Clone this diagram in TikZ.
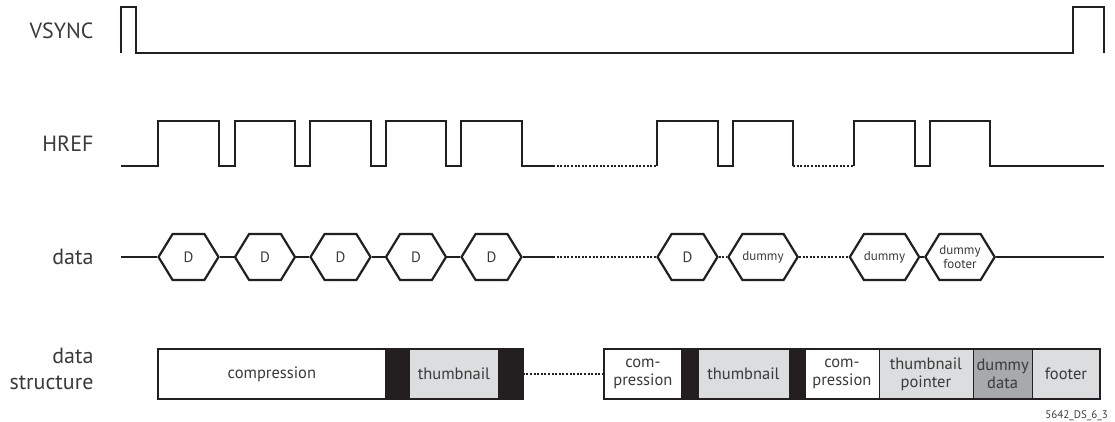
\documentclass[tikz,border=0pt]{standalone}
\usepackage{fontspec}
\setmainfont{PT Sans}
\usetikzlibrary{shapes.symbols}
\definecolor{wirecol}{HTML}{231F20}
\definecolor{cellgrey}{HTML}{DCDDDE}
\definecolor{dummygrey}{HTML}{A7A9AC}
\definecolor{labelcol}{HTML}{3A3A3A}
\tikzset{
    sigwire/.style={draw=wirecol, line width=2.2pt, line join=miter},
    gapwire/.style={draw=wirecol, line width=2.2pt, dash pattern=on 2pt off 1.6pt},
    siglabel/.style={anchor=east, text=labelcol, font=\fontsize{22}{26}\selectfont, align=right},
    % hexagon cell of the data line
    hexcell/.style={signal, signal to=west and east, signal pointer angle=117,
        draw=wirecol, line width=2.2pt, fill=white, inner sep=0pt,
        minimum width=60pt, minimum height=46pt, text=labelcol,
        font=\fontsize{15}{16}\selectfont},
    smalltext/.style={font=\fontsize{13}{14.5}\selectfont},
    cellbox/.style={draw=wirecol, line width=0.8pt, anchor=west, inner sep=0pt,
        minimum height=50pt, text=labelcol, align=center,
        font=\fontsize{16.5}{18}\selectfont},
}
\begin{document}
\begin{tikzpicture}[x=1pt, y=-1pt]
\useasboundingbox (0,0) rectangle (1115,422);

% signal names
\node[siglabel] (lvsync) at (97,31) {VSYNC};
\node[siglabel] (lhref) at (97,144) {HREF};
\node[siglabel] (ldata) at (97,257) {data};
\node[siglabel] (lstruct) at (97,369) {data\\structure};

% VSYNC
\draw[sigwire] (121,53) -- (121,7) -- (136,7) -- (136,53) -- (1073,53)
    -- (1073,7) -- (1104,7) -- (1104,53);

% HREF
\draw[sigwire] (121,166)
    \foreach \a/\b in {158/219, 235/295, 310/371, 386/446, 461/522}
        { -- (\a,166) -- (\a,121) -- (\b,121) -- (\b,166) } -- (553,166);
\draw[gapwire] (553,166) -- (657,166);
\draw[sigwire] (657,166)
    \foreach \a/\b in {657/718, 733/793}
        { -- (\a,166) -- (\a,121) -- (\b,121) -- (\b,166) };
\draw[gapwire] (793,166) -- (854,166);
\draw[sigwire] (854,166)
    \foreach \a/\b in {854/915, 930/990}
        { -- (\a,166) -- (\a,121) -- (\b,121) -- (\b,166) } -- (1104,166);

% data
\foreach \a/\b/\n in {158/219/d1, 235/295/d2, 310/371/d3, 386/446/d4, 461/522/d5, 657/718/d6}
    \node[hexcell] (\n) at ({(\a+\b)/2},257) {D};
\node[hexcell, smalltext] (d7) at (763,257) {dummy};
\node[hexcell, smalltext] (d8) at (884.5,257) {dummy};
\node[hexcell, smalltext, align=center] (d9) at (960,257) {dummy\\footer};
\coordinate (dstart) at (121,257);
\coordinate (dgap) at (553,257);
\coordinate (dend) at (1104,257);

\draw[sigwire] (dstart) -- (d1.west);
\foreach \p/\q in {d1/d2, d2/d3, d3/d4, d4/d5}
    \draw[sigwire] (\p.east) -- (\q.west);
\draw[sigwire] (d5.east) -- (dgap);
\draw[gapwire] (dgap) -- (d6.west);
\draw[gapwire] (d6.east) -- (d7.west);
\draw[gapwire] (d7.east) -- (d8.west);
\draw[sigwire] (d8.east) -- (d9.west);
\draw[sigwire] (d9.east) -- (dend);

% data structure
\node[cellbox, fill=white, minimum width=227pt] (c1) at (158,374) {compression};
\node[cellbox, fill=wirecol, minimum width=24pt] (k1) at (385,374) {};
\node[cellbox, fill=cellgrey, minimum width=89pt] (t1) at (409,374) {thumbnail};
\node[cellbox, fill=wirecol, minimum width=24pt] (k2) at (498,374) {};

\node[cellbox, fill=white, minimum width=77pt] (c2) at (604,374) {com-\\pression};
\node[cellbox, fill=wirecol, minimum width=16.5pt] (k3) at (681,374) {};
\node[cellbox, fill=cellgrey, minimum width=91pt] (t2) at (697.5,374) {thumbnail};
\node[cellbox, fill=wirecol, minimum width=16pt] (k4) at (788.5,374) {};
\node[cellbox, fill=white, minimum width=74pt] (c3) at (804.5,374) {com-\\pression};
\node[cellbox, fill=cellgrey, minimum width=94pt] (tp) at (878.5,374) {thumbnail\\pointer};
\node[cellbox, fill=dummygrey, minimum width=59.5pt] (dd) at (972.5,374) {dummy\\data};
\node[cellbox, fill=cellgrey, minimum width=67pt] (ft) at (1032,374) {footer};

\draw[draw=wirecol, line width=2pt] (c1.north west) rectangle (k2.south east);
\draw[draw=wirecol, line width=2pt] (c2.north west) rectangle (ft.south east);
\draw[gapwire] (k2.east) -- (c2.west);

\node[anchor=east, text=labelcol, font=\fontsize{11}{11}\selectfont, inner sep=0pt] (fig) at (1108,416) {5642\_DS\_6\_3};
\end{tikzpicture}
\end{document}
